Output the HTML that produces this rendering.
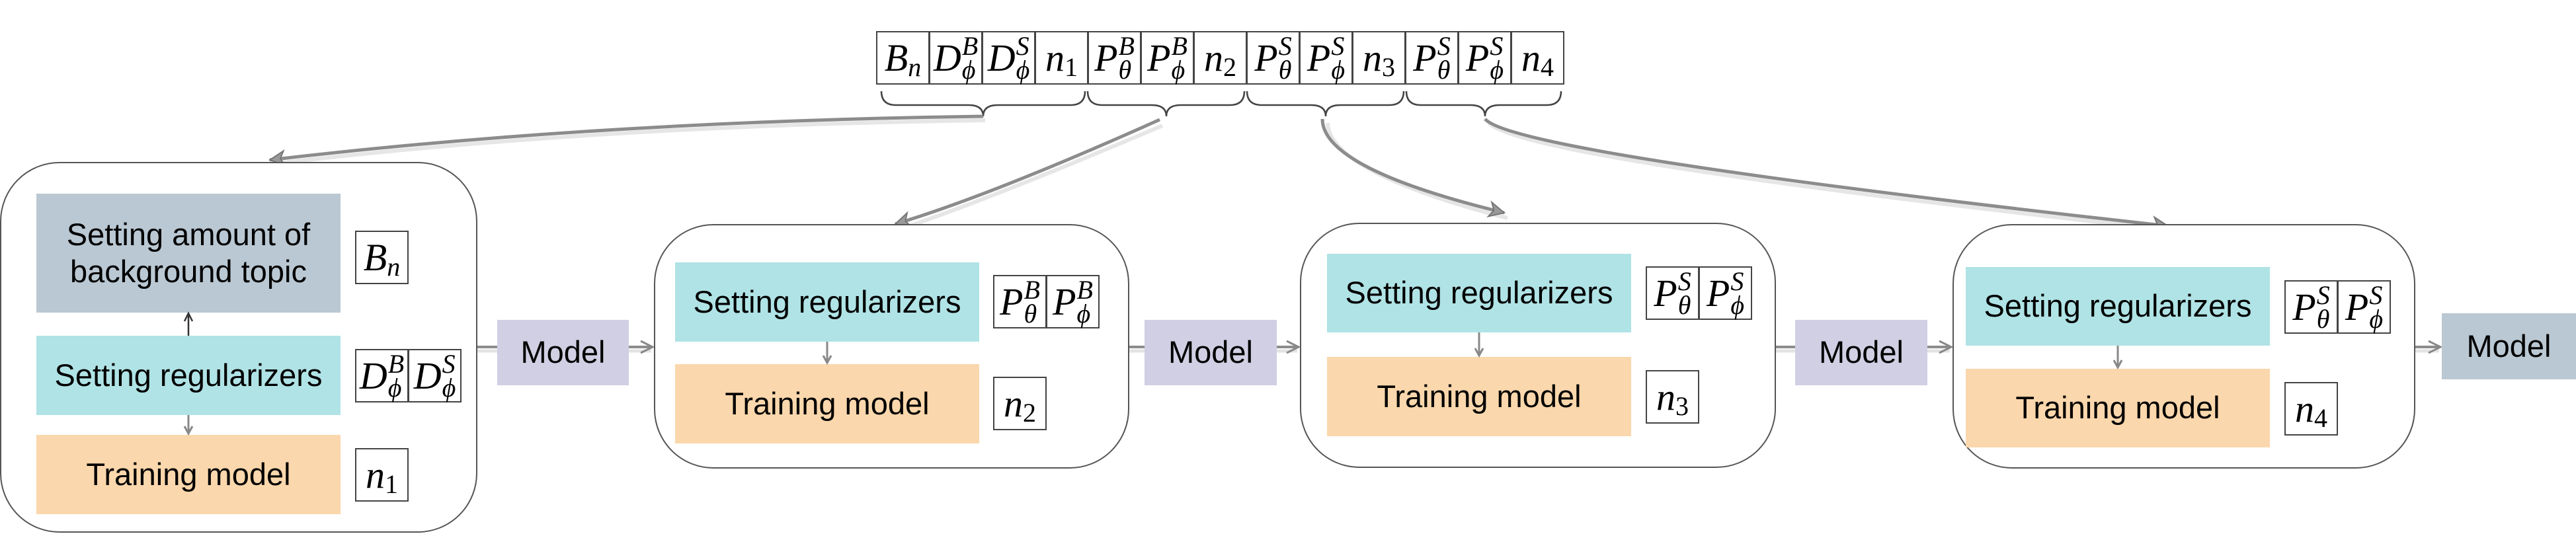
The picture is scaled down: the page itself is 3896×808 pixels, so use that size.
<!DOCTYPE html>
<html><head><meta charset="utf-8"><style>
*{margin:0;padding:0;box-sizing:border-box}
body{width:3896px;height:808px;background:#fff;position:relative;overflow:hidden;font-family:"Liberation Sans",sans-serif}
.a{position:absolute}
.ob{position:absolute;border:2.5px solid #555;border-radius:90px;background:#fff}
.r{position:absolute;display:flex;align-items:center;justify-content:center;text-align:center;font-size:47px;line-height:1.2;color:#000}
.g{background:#bac8d3}.t{background:#b0e3e6}.o{background:#fad7ac}.l{background:#d0cfe3}
.c{position:absolute;width:81px;height:81px;border:2.5px solid #444;background:#fff;font-family:"Liberation Serif",serif;font-style:italic;font-size:58px;display:flex;align-items:center;justify-content:center;overflow:visible;white-space:nowrap}
.ss{display:inline-flex;flex-direction:column;font-size:40px;line-height:36px;margin-left:1px;vertical-align:middle}
.sb{font-size:40px;position:relative;top:14px}
.up{font-style:normal}
</style></head><body>
<svg class="a" style="left:0;top:0" width="3896" height="808">
<defs>
<marker id="ar" markerWidth="10" markerHeight="10" refX="8" refY="5" orient="auto" markerUnits="userSpaceOnUse" viewBox="0 0 10 10"><path d="M0,0 L9,5 L0,10" fill="none" stroke="#777" stroke-width="2"/></marker>
<marker id="ah" markerWidth="30" markerHeight="30" refX="26" refY="15" orient="auto" markerUnits="userSpaceOnUse"><path d="M4,4 L26,15 L4,26 L10,15 Z" fill="#999" stroke="#777" stroke-width="2"/></marker>
<marker id="as" markerWidth="24" markerHeight="24" refX="20" refY="12" orient="auto" markerUnits="userSpaceOnUse"><path d="M2,3 L20,12 L2,21" fill="none" stroke="#888" stroke-width="3"/></marker>
</defs>
<g fill="none" stroke="#444" stroke-width="2.5">
<path d="M1333,138 Q1333,159 1355,159 L1465,159 Q1487,159 1487,176 Q1487,159 1509,159 L1619,159 Q1641,159 1641,138"/>
<path d="M1645,138 Q1645,159 1667,159 L1742,159 Q1764,159 1764,176 Q1764,159 1786,159 L1860,159 Q1882,159 1882,138"/>
<path d="M1886,138 Q1886,159 1908,159 L1983,159 Q2005,159 2005,176 Q2005,159 2027,159 L2101,159 Q2123,159 2123,138"/>
<path d="M2127,138 Q2127,159 2149,159 L2224,159 Q2246,159 2246,176 Q2246,159 2268,159 L2339,159 Q2361,159 2361,138"/>
</g>
<g fill="none" stroke="#e6e6e6" stroke-width="6">
<path d="M1490,182 Q900,190 412,248"/>
<path d="M1758,190 Q1500,300 1366,345"/>
<path d="M2008,186 Q2010,260 2280,330"/>
<path d="M2252,186 Q2300,240 3282,348"/>
</g>
<g fill="none" stroke="#8c8c8c" stroke-width="5">
<path d="M1487,176 Q900,184 408,242" marker-end="url(#ah)"/>
<path d="M1754,181 Q1500,295 1354,339" marker-end="url(#ah)"/>
<path d="M2000,180 Q2000,255 2275,322" marker-end="url(#ah)"/>
<path d="M2246,180 Q2290,232 3279,342" marker-end="url(#ah)"/>
</g>
<g stroke="#e3e3e3" stroke-width="5">
<line x1="721" y1="531" x2="752" y2="531"/><line x1="951" y1="531" x2="985" y2="531"/>
<line x1="1708" y1="531" x2="1731" y2="531"/><line x1="1931" y1="531" x2="1962" y2="531"/>
<line x1="2686" y1="531" x2="2715" y2="531"/><line x1="2915" y1="531" x2="2949" y2="531"/>
<line x1="3653" y1="531" x2="3689" y2="531"/>
</g>
<g stroke="#8c8c8c" stroke-width="4" fill="none">
<line x1="721" y1="525" x2="752" y2="525"/><line x1="951" y1="525" x2="987" y2="525" marker-end="url(#as)"/>
<line x1="1708" y1="525" x2="1731" y2="525"/><line x1="1931" y1="525" x2="1964" y2="525" marker-end="url(#as)"/>
<line x1="2686" y1="525" x2="2715" y2="525"/><line x1="2915" y1="525" x2="2951" y2="525" marker-end="url(#as)"/>
<line x1="3653" y1="525" x2="3691" y2="525" marker-end="url(#as)"/>
</g>
</svg>

<div class="ob" style="left:0;top:245px;width:722px;height:561px"></div>
<div class="ob" style="left:989px;top:339px;width:719px;height:370px"></div>
<div class="ob" style="left:1966px;top:337px;width:720px;height:371px"></div>
<div class="ob" style="left:2953px;top:339px;width:700px;height:370px"></div>

<div class="r g" style="left:55px;top:293px;width:460px;height:180px">Setting amount of<br>background topic</div>
<div class="r t" style="left:55px;top:508px;width:460px;height:120px">Setting regularizers</div>
<div class="r o" style="left:55px;top:658px;width:460px;height:120px">Training model</div>

<div class="r t" style="left:1021px;top:397px;width:460px;height:120px">Setting regularizers</div>
<div class="r o" style="left:1021px;top:551px;width:460px;height:120px">Training model</div>
<div class="r t" style="left:2007px;top:384px;width:460px;height:119px">Setting regularizers</div>
<div class="r o" style="left:2007px;top:540px;width:460px;height:120px">Training model</div>
<div class="r t" style="left:2973px;top:404px;width:460px;height:119px">Setting regularizers</div>
<div class="r o" style="left:2973px;top:558px;width:460px;height:119px">Training model</div>

<div class="r l" style="left:752px;top:484px;width:199px;height:99px">Model</div>
<div class="r l" style="left:1731px;top:484px;width:200px;height:99px">Model</div>
<div class="r l" style="left:2715px;top:484px;width:200px;height:99px">Model</div>
<div class="r g" style="left:3693px;top:474px;width:203px;height:100px">Model</div>

<svg class="a" style="left:0;top:0;pointer-events:none" width="3896" height="808">
<g stroke="#333" stroke-width="2.5" fill="none">
<line x1="285" y1="508" x2="285" y2="476"/><path d="M279,486 L285,474 L291,486"/>
</g>
<g stroke="#888" stroke-width="3" fill="none">
<line x1="285" y1="628" x2="285" y2="656"/><path d="M279,645 L285,656 L291,645"/>
<line x1="1251" y1="517" x2="1251" y2="549"/><path d="M1245,538 L1251,549 L1257,538"/>
<line x1="2237" y1="503" x2="2237" y2="538"/><path d="M2231,527 L2237,538 L2243,527"/>
<line x1="3203" y1="523" x2="3203" y2="556"/><path d="M3197,545 L3203,556 L3209,545"/>
</g>
</svg>

<!-- top strip -->
<div class="c" style="left:1325px;top:47px">B<span class="sb">n</span></div>
<div class="c" style="left:1405px;top:47px">D<span class="ss"><span>B</span><span>ϕ</span></span></div>
<div class="c" style="left:1485px;top:47px">D<span class="ss"><span>S</span><span>ϕ</span></span></div>
<div class="c" style="left:1565px;top:47px">n<span class="sb up">1</span></div>
<div class="c" style="left:1645px;top:47px">P<span class="ss"><span>B</span><span>θ</span></span></div>
<div class="c" style="left:1725px;top:47px">P<span class="ss"><span>B</span><span>ϕ</span></span></div>
<div class="c" style="left:1805px;top:47px">n<span class="sb up">2</span></div>
<div class="c" style="left:1885px;top:47px">P<span class="ss"><span>S</span><span>θ</span></span></div>
<div class="c" style="left:1965px;top:47px">P<span class="ss"><span>S</span><span>ϕ</span></span></div>
<div class="c" style="left:2045px;top:47px">n<span class="sb up">3</span></div>
<div class="c" style="left:2125px;top:47px">P<span class="ss"><span>S</span><span>θ</span></span></div>
<div class="c" style="left:2205px;top:47px">P<span class="ss"><span>S</span><span>ϕ</span></span></div>
<div class="c" style="left:2285px;top:47px">n<span class="sb up">4</span></div>

<!-- box cells -->
<div class="c" style="left:537px;top:349px">B<span class="sb">n</span></div>
<div class="c" style="left:537px;top:528px">D<span class="ss"><span>B</span><span>ϕ</span></span></div>
<div class="c" style="left:617px;top:528px">D<span class="ss"><span>S</span><span>ϕ</span></span></div>
<div class="c" style="left:537px;top:678px">n<span class="sb up">1</span></div>

<div class="c" style="left:1502px;top:416px">P<span class="ss"><span>B</span><span>θ</span></span></div>
<div class="c" style="left:1582px;top:416px">P<span class="ss"><span>B</span><span>ϕ</span></span></div>
<div class="c" style="left:1502px;top:570px">n<span class="sb up">2</span></div>

<div class="c" style="left:2489px;top:403px">P<span class="ss"><span>S</span><span>θ</span></span></div>
<div class="c" style="left:2569px;top:403px">P<span class="ss"><span>S</span><span>ϕ</span></span></div>
<div class="c" style="left:2489px;top:560px">n<span class="sb up">3</span></div>

<div class="c" style="left:3455px;top:424px">P<span class="ss"><span>S</span><span>θ</span></span></div>
<div class="c" style="left:3535px;top:424px">P<span class="ss"><span>S</span><span>ϕ</span></span></div>
<div class="c" style="left:3455px;top:578px">n<span class="sb up">4</span></div>
</body></html>
